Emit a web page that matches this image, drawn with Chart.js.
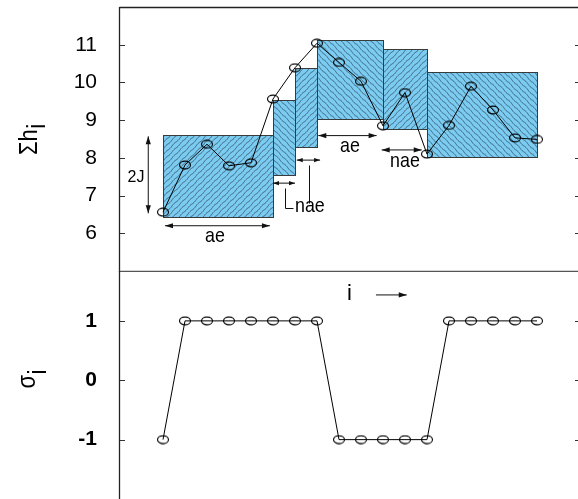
<!DOCTYPE html>
<html><head><meta charset="utf-8">
<script src="https://cdn.jsdelivr.net/npm/chart.js@4"></script>
<style>
html,body{margin:0;padding:0;background:#fff;overflow:hidden;width:578px;height:499px;}
#wrap{position:relative;width:578px;height:499px;overflow:hidden;background:#fff;}
#top{position:absolute;left:0;top:0;}
#bot{position:absolute;left:0;top:271px;}
</style></head><body>
<div id="wrap"><canvas id="top" width="584" height="272"></canvas><canvas id="bot" width="584" height="228"></canvas></div>
<script>
// ---- data ----
const siteIndex = [1,2,3,4,5,6,7,8,9,10,11,12,13,14,15,16,17,18];
const sumH = [6.56,7.81,8.36,7.79,7.87,9.56,10.39,11.04,10.53,10.03,8.85,9.73,8.10,8.86,9.90,9.27,8.53,8.49];
const sigma = [-1,1,1,1,1,1,1,1,-1,-1,-1,-1,-1,1,1,1,1,1];
const boxStart = [1,6,7,8,11,13];
const boxEnd   = [6,7,8,11,13,18];
const boxLow   = [6.44,7.54,8.30,9.03,8.77,8.02];
const boxHigh  = [8.61,9.54,10.38,11.13,10.88,10.28];
const sumTicks = [6,7,8,9,10,11];
const sigmaTicks = [-1,0,1];
const xLimits = [-1,20];
const sumLimits = [5,12];
const sigmaLimits = [-2,1.84];

// ---- annotation layout (data coordinates) ----
const topNotes = [
  {kind:'arrow', from:[0.33,8.57], to:[0.33,6.53], both:true},
  {kind:'text', at:[-0.23,7.47], text:'2J', size:16, sx:1},
  {kind:'arrow', from:[1.09,6.20], to:[5.86,6.20], both:true},
  {kind:'text', at:[3.36,5.93], text:'ae', size:21, sx:0.85},
  {kind:'arrow', from:[6.0,7.33], to:[7.0,7.33], both:true, small:true},
  {kind:'arrow', from:[7.08,7.94], to:[8.14,7.94], both:true, small:true},
  {kind:'path', pts:[[6.545,7.19],[6.545,6.66],[6.92,6.66]]},
  {kind:'path', pts:[[7.65,7.81],[7.65,6.80]]},
  {kind:'text', at:[7.0,6.72], text:'nae', size:21, sx:0.85, align:'left'},
  {kind:'arrow', from:[8.06,8.59], to:[10.71,8.59], both:true},
  {kind:'text', at:[9.5,8.32], text:'ae', size:21, sx:0.85},
  {kind:'arrow', from:[10.94,8.21], to:[12.76,8.21], both:true},
  {kind:'text', at:[12.0,7.92], text:'nae', size:21, sx:0.85},
];
const botNotes = [
  {kind:'text', at:[9.48,1.46], text:'i', size:22, sx:1},
  {kind:'arrow', from:[10.68,1.437], to:[12.08,1.437], both:false},
];

const SANS = '"Liberation Sans", Arial, Helvetica, sans-serif';

function ellipseMarker(){
  const c=document.createElement('canvas'); c.width=14; c.height=10;
  const g=c.getContext('2d'); g.strokeStyle='#000'; g.lineWidth=1.1;
  g.beginPath(); g.ellipse(7,5,5.5,3.9,0,0,Math.PI*2); g.stroke();
  return c;
}
function makeHatch(dir){
  const s=24, c=document.createElement('canvas'); c.width=s; c.height=s;
  const g=c.getContext('2d');
  g.strokeStyle='rgba(30,50,70,0.8)'; g.lineWidth=0.8;
  for(let k=-8;k<=16;k++){
    const c0=k*6;
    g.beginPath();
    for(let t=-6;t<=s+6;t+=0.5){
      const w=0.5*Math.sin(2*Math.PI*t/8);
      const py = dir>0 ? (c0 - t + w) : (t + c0 - 24 + w);
      if(t===-6) g.moveTo(t,py); else g.lineTo(t,py);
    }
    g.stroke();
  }
  return c;
}
const marker = ellipseMarker();

function arrowHead(ctx,x,y,ang,L,W){
  ctx.beginPath(); ctx.moveTo(x,y);
  ctx.lineTo(x-L*Math.cos(ang)+W*Math.sin(ang), y-L*Math.sin(ang)-W*Math.cos(ang));
  ctx.lineTo(x-L*Math.cos(ang)-W*Math.sin(ang), y-L*Math.sin(ang)+W*Math.cos(ang));
  ctx.closePath(); ctx.fill();
}
function drawNotes(ctx,xs,ys,notes){
  ctx.save();
  ctx.strokeStyle='#111'; ctx.fillStyle='#111'; ctx.lineWidth=1;
  for(const n of notes){
    if(n.kind==='arrow'){
      const x1=xs.getPixelForValue(n.from[0]), y1=ys.getPixelForValue(n.from[1]);
      const x2=xs.getPixelForValue(n.to[0]), y2=ys.getPixelForValue(n.to[1]);
      const L=n.small?6:8, W=n.small?2.2:2.6;
      ctx.beginPath(); ctx.moveTo(x1,y1); ctx.lineTo(x2,y2); ctx.stroke();
      const ang=Math.atan2(y2-y1,x2-x1);
      arrowHead(ctx,x2,y2,ang,L,W);
      if(n.both) arrowHead(ctx,x1,y1,ang+Math.PI,L,W);
    } else if(n.kind==='path'){
      ctx.beginPath();
      n.pts.forEach((p,i)=>{const px=Math.round(xs.getPixelForValue(p[0]))+0.5, py=Math.round(ys.getPixelForValue(p[1]))+0.5; i?ctx.lineTo(px,py):ctx.moveTo(px,py);});
      ctx.stroke();
    } else if(n.kind==='text'){
      ctx.save();
      ctx.translate(xs.getPixelForValue(n.at[0]), ys.getPixelForValue(n.at[1]));
      ctx.scale(n.sx||1,1);
      ctx.font = n.size+'px '+SANS;
      ctx.textAlign = n.align||'center'; ctx.textBaseline='middle';
      ctx.fillStyle='#000';
      ctx.fillText(n.text, 0, 0);
      ctx.restore();
    }
  }
  ctx.restore();
}
function drawTicks(ctx,area,ys){
  ctx.save(); ctx.strokeStyle='#333'; ctx.lineWidth=1;
  for(const t of ys.ticks){
    const py=Math.round(ys.getPixelForValue(t.value))+0.5;
    ctx.beginPath();
    ctx.moveTo(area.left,py); ctx.lineTo(area.left+6,py);
    ctx.moveTo(area.right-6,py); ctx.lineTo(area.right,py);
    ctx.stroke();
  }
  ctx.restore();
}
function drawRotLabel(ctx, base, sym, subOffset, x, y){
  ctx.save();
  ctx.translate(x,y); ctx.rotate(-Math.PI/2); ctx.scale(1,1.2);
  ctx.font='22px '+SANS; ctx.fillStyle='#000'; ctx.textAlign='left'; ctx.textBaseline='alphabetic';
  ctx.fillText(base,0,0);
  const w=ctx.measureText(base).width;
  ctx.fillText(sym,w+0.5,subOffset);
  ctx.restore();
}

const hatchPatterns = [];
const topPlugin = {
  id:'topPlugin',
  beforeDatasetsDraw(chart){
    const {ctx, scales:{x,y}} = chart;
    if(!hatchPatterns.length){ hatchPatterns.push(ctx.createPattern(makeHatch(1),'repeat'), ctx.createPattern(makeHatch(-1),'repeat')); }
    for(let k=0;k<boxStart.length;k++){
      const x0=Math.round(x.getPixelForValue(boxStart[k])), x1=Math.round(x.getPixelForValue(boxEnd[k]));
      const y0=Math.round(y.getPixelForValue(boxHigh[k])), y1=Math.round(y.getPixelForValue(boxLow[k]));
      ctx.save();
      ctx.fillStyle='#7ccbf0'; ctx.fillRect(x0,y0,x1-x0,y1-y0);
      ctx.fillStyle=hatchPatterns[k%2]; ctx.fillRect(x0,y0,x1-x0,y1-y0);
      ctx.strokeStyle='#3a3a3a'; ctx.lineWidth=1; ctx.strokeRect(x0+0.5,y0+0.5,x1-x0,y1-y0);
      ctx.restore();
    }
  },
  afterDraw(chart){
    const {ctx, chartArea:a, scales:{x,y}} = chart;
    drawNotes(ctx,x,y,topNotes);
    drawTicks(ctx,a,y);
    ctx.save();
    ctx.strokeStyle='#222'; ctx.lineWidth=1.3;
    ctx.beginPath(); ctx.moveTo(a.left+0.5,a.top+0.5); ctx.lineTo(a.right+2,a.top+0.5);
    ctx.moveTo(a.left+0.5,a.top); ctx.lineTo(a.left+0.5,chart.height); ctx.stroke();
    ctx.strokeStyle='#555'; ctx.lineWidth=1.5;
    ctx.beginPath(); ctx.moveTo(a.left,a.bottom+0.5); ctx.lineTo(a.right+2,a.bottom+0.5); ctx.stroke();
    ctx.restore();
    drawRotLabel(ctx,'\u03A3h','i',7,37,155);
  }
};
const botPlugin = {
  id:'botPlugin',
  afterDraw(chart){
    const {ctx, chartArea:a, scales:{x,y}} = chart;
    drawNotes(ctx,x,y,botNotes);
    drawTicks(ctx,a,y);
    ctx.save();
    ctx.strokeStyle='#222'; ctx.lineWidth=1.3;
    ctx.beginPath(); ctx.moveTo(a.left+0.5,0); ctx.lineTo(a.left+0.5,chart.height); ctx.stroke();
    ctx.restore();
    drawRotLabel(ctx,'\u03C3','i',9,35,388.5-271);
  }
};

function yAxis(lim, tickVals, bold){
  return {
    type:'linear', min:lim[0], max:lim[1],
    afterFit(s){ s.width=119; s.paddingTop=0; s.paddingBottom=0; },
    afterBuildTicks(s){ s.ticks = tickVals.map(v=>({value:v})); },
    grid:{display:false, drawTicks:false}, border:{display:false},
    ticks:{padding:22, color:'#000', font:{family:SANS, size:21, weight: bold?'bold':'normal'}}
  };
}
function baseOptions(pad, lim, tickVals, bold){
  return {
    responsive:false, animation:false, events:[],
    layout:{padding:pad, autoPadding:false},
    plugins:{legend:{display:false}, tooltip:{enabled:false}},
    scales:{ x:{type:'linear', min:xLimits[0], max:xLimits[1], display:false}, y:yAxis(lim,tickVals,bold) }
  };
}
function lineDataset(vals){
  return {data: siteIndex.map((v,k)=>({x:v,y:vals[k]})), borderColor:'#000', borderWidth:1,
          pointStyle:marker, pointRadius:5, pointHoverRadius:5, tension:0, fill:false, clip:false};
}

new Chart(document.getElementById('top'), {
  type:'line',
  data:{datasets:[lineDataset(sumH)]},
  options: baseOptions({top:7,right:3,bottom:1,left:0}, sumLimits, sumTicks, false),
  plugins:[topPlugin]
});
new Chart(document.getElementById('bot'), {
  type:'line',
  data:{datasets:[lineDataset(sigma)]},
  options: baseOptions({top:0,right:3,bottom:0,left:0}, sigmaLimits, sigmaTicks, true),
  plugins:[botPlugin]
});
</script>
</body></html>
